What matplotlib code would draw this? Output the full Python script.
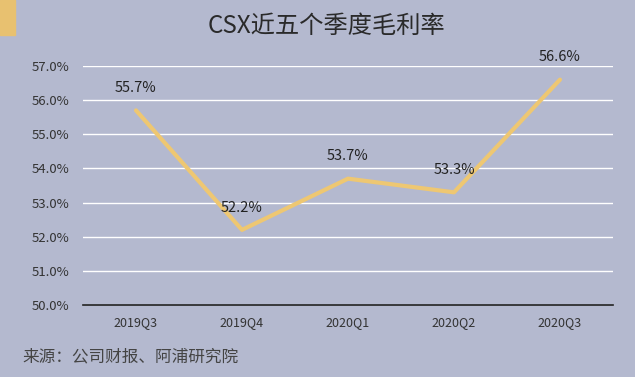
import matplotlib
matplotlib.use('Agg')
import matplotlib.pyplot as plt
from matplotlib.patches import Rectangle

plt.rcParams['font.family'] = ['Noto Sans CJK SC', 'DejaVu Sans']

quarters = ['2019Q3', '2019Q4', '2020Q1', '2020Q2', '2020Q3']
margin = [55.7, 52.2, 53.7, 53.3, 56.6]

bg = '#B4B9CF'
line_color = '#EEC772'

fig = plt.figure(figsize=(6.35, 3.77), dpi=100, facecolor=bg)
ax = fig.add_axes([0.1307, 0.191, 0.8346, 0.634], facecolor=bg)

x = list(range(len(quarters)))
ax.plot(x, margin, color=line_color, lw=3, solid_capstyle='round', zorder=3)
for xi, v in zip(x, margin):
    ax.annotate(f'{v:.1f}%', (xi, v), xytext=(0, 16), textcoords='offset points',
                ha='center', va='center', fontsize=10.5, color='#222222', zorder=4)

ax.set_xlim(-0.5, len(quarters) - 0.5)
ax.set_ylim(50, 57)
ax.set_yticks(range(50, 58))
ax.set_yticklabels([f'{t:.1f}%' for t in range(50, 58)], fontsize=9.5, color='#333333')
ax.set_xticks(x)
ax.set_xticklabels(quarters, fontsize=9, color='#333333')
ax.tick_params(length=0, pad=10)
ax.tick_params(axis='x', pad=8)
ax.grid(axis='y', color='white', lw=1)
ax.set_axisbelow(True)
for s in ['top', 'right', 'left']:
    ax.spines[s].set_visible(False)
ax.spines['bottom'].set_color('#222222')
ax.spines['bottom'].set_linewidth(1.2)

fig.text(0.514, 0.932, 'CSX近五个季度毛利率', ha='center', va='center',
         fontsize=17.5, color='#2a2a2a')
fig.text(0.036, 0.052, '来源：公司财报、阿浦研究院', ha='left', va='center',
         fontsize=12, color='#444444')
fig.patches.append(Rectangle((0, 0.907), 0.0236, 0.093, transform=fig.transFigure,
                             color='#E8C170', zorder=5))

plt.savefig('out.png', dpi=100, facecolor=bg)
